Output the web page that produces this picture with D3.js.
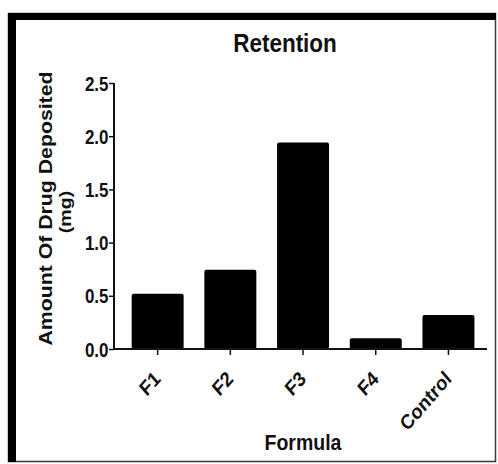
<!DOCTYPE html>
<html>
<head>
<meta charset="utf-8">
<script src="https://cdn.jsdelivr.net/npm/d3@7"></script>
<style>
  html, body { margin: 0; padding: 0; background: #fff; }
  svg { display: block; }
  text { font-family: "Liberation Sans", Arial, sans-serif; font-weight: bold; fill: #111; }
</style>
</head>
<body>
<svg id="chart" width="498" height="464"></svg>
<script>
const categories = ["F1", "F2", "F3", "F4", "Control"];
const values = [0.52, 0.745, 1.94, 0.10, 0.32];
const yTicks = [0.0, 0.5, 1.0, 1.5, 2.0, 2.5];
const titleText = "Retention";
const yLabel1 = "Amount Of Drug Deposited";
const yLabel2 = "(mg)";
const xLabel = "Formula";

const svg = d3.select("#chart");
const SY = 1.15; // vertical stretch of the original picture

// frame
svg.append("rect").attr("x", 8.5).attr("y", 13.5).attr("width", 487).attr("height", 448)
  .attr("fill", "#fff").attr("stroke", "#3a3a3a").attr("stroke-width", 1.5);
svg.append("rect").attr("x", 8).attr("y", 13).attr("width", 8).attr("height", 449).attr("fill", "#000");
svg.append("rect").attr("x", 8).attr("y", 13).attr("width", 488).attr("height", 7).attr("fill", "#000");

const x = d3.scaleBand().domain(categories).range([121.3, 484.8])
  .paddingInner(0.285).paddingOuter(0.1425);
const y = d3.scaleLinear().domain([0, 2.5]).range([349, 83]);

// bars
svg.append("g").selectAll("rect").data(categories).join("rect")
  .attr("x", d => x(d))
  .attr("y", (d, i) => y(values[i]))
  .attr("width", x.bandwidth())
  .attr("height", (d, i) => y(0) - y(values[i]))
  .attr("rx", 2).attr("ry", 2)
  .attr("fill", "#000");

// y axis
const yAxis = svg.append("g").attr("transform", "translate(114,0)")
  .call(d3.axisLeft(y).tickValues(yTicks).tickFormat(d3.format(".1f")).tickSize(5));
yAxis.select(".domain").attr("d", `M0,${y(2.5)}V${y(0)}`).attr("stroke", "#111").attr("stroke-width", 2);
yAxis.selectAll(".tick line").attr("stroke", "#111").attr("stroke-width", 1.5);
yAxis.selectAll(".tick text").remove();
yAxis.selectAll(".tick").append("text")
  .attr("transform", `translate(-5.5,0) scale(1,${SY})`)
  .attr("dy", "0.36em")
  .attr("text-anchor", "end")
  .attr("font-size", 17)
  .text(d => d3.format(".1f")(d));

// x axis
const xAxis = svg.append("g").attr("transform", `translate(0,${y(0)})`)
  .call(d3.axisBottom(x).tickSize(6).tickFormat(""));
xAxis.select(".domain").attr("d", "M113,0H487").attr("stroke", "#111").attr("stroke-width", 2);
xAxis.selectAll(".tick line").attr("stroke", "#111").attr("stroke-width", 1.5);

svg.append("g").selectAll("text").data(categories).join("text")
  .attr("transform", d => `translate(${x(d) + x.bandwidth() / 2 + 4},${y(0) + 31}) scale(1,${SY}) rotate(-45)`)
  .attr("text-anchor", "end")
  .attr("font-size", 18)
  .text(d => d);

// titles
svg.append("text").attr("transform", `translate(285,52) scale(1,${SY})`).attr("text-anchor", "middle")
  .attr("font-size", 22.5).text(titleText);
svg.append("text").attr("transform", `translate(51.5,208.5) rotate(-90) scale(${SY},1)`)
  .attr("text-anchor", "middle").attr("font-size", 18.5).text(yLabel1);
svg.append("text").attr("transform", `translate(71,212) rotate(-90) scale(${SY},1)`)
  .attr("text-anchor", "middle").attr("font-size", 17).text(yLabel2);
svg.append("text").attr("transform", `translate(303,450) scale(1,${SY})`).attr("text-anchor", "middle")
  .attr("font-size", 19.5).text(xLabel);
</script>
</body>
</html>
